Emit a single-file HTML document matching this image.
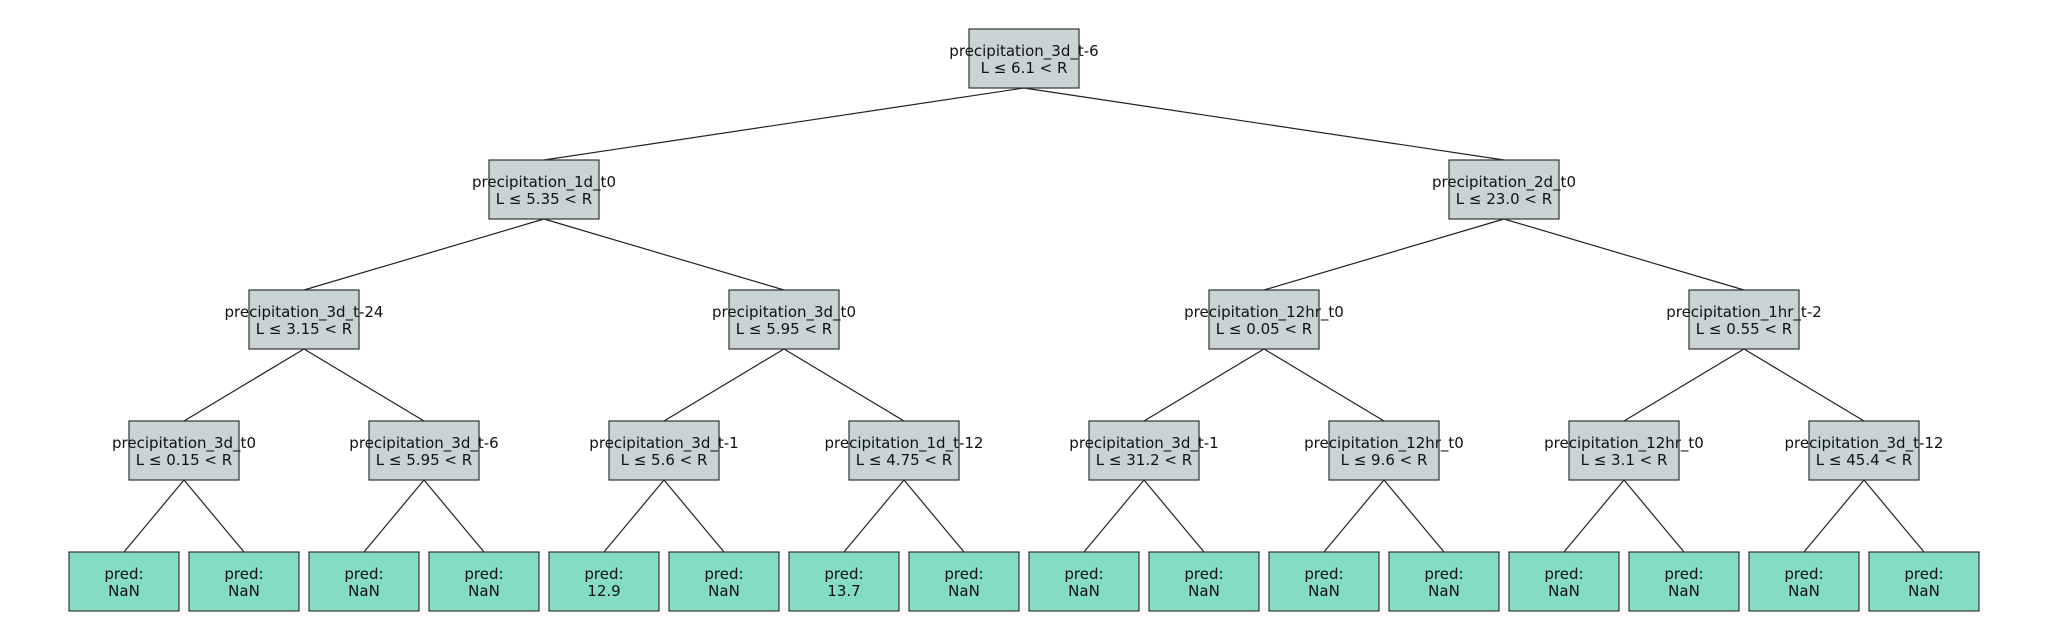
<!DOCTYPE html>
<html><head><meta charset="utf-8"><style>html,body{margin:0;padding:0;background:#fff}svg{display:block}</style></head>
<body>
<svg width="2048" height="640" xmlns="http://www.w3.org/2000/svg" font-family="DejaVu Sans, Liberation Sans, sans-serif" font-size="15" fill="#111">
<g stroke="#222" stroke-width="1.2">
<line x1="1024" y1="88" x2="544" y2="160"/><line x1="1024" y1="88" x2="1504" y2="160"/>
<line x1="544" y1="219" x2="304" y2="290"/><line x1="544" y1="219" x2="784" y2="290"/>
<line x1="1504" y1="219" x2="1264" y2="290"/><line x1="1504" y1="219" x2="1744" y2="290"/>
<line x1="304" y1="349" x2="184" y2="421"/><line x1="304" y1="349" x2="424" y2="421"/>
<line x1="784" y1="349" x2="664" y2="421"/><line x1="784" y1="349" x2="904" y2="421"/>
<line x1="1264" y1="349" x2="1144" y2="421"/><line x1="1264" y1="349" x2="1384" y2="421"/>
<line x1="1744" y1="349" x2="1624" y2="421"/><line x1="1744" y1="349" x2="1864" y2="421"/>
<line x1="184" y1="480" x2="124" y2="552"/><line x1="184" y1="480" x2="244" y2="552"/>
<line x1="424" y1="480" x2="364" y2="552"/><line x1="424" y1="480" x2="484" y2="552"/>
<line x1="664" y1="480" x2="604" y2="552"/><line x1="664" y1="480" x2="724" y2="552"/>
<line x1="904" y1="480" x2="844" y2="552"/><line x1="904" y1="480" x2="964" y2="552"/>
<line x1="1144" y1="480" x2="1084" y2="552"/><line x1="1144" y1="480" x2="1204" y2="552"/>
<line x1="1384" y1="480" x2="1324" y2="552"/><line x1="1384" y1="480" x2="1444" y2="552"/>
<line x1="1624" y1="480" x2="1564" y2="552"/><line x1="1624" y1="480" x2="1684" y2="552"/>
<line x1="1864" y1="480" x2="1804" y2="552"/><line x1="1864" y1="480" x2="1924" y2="552"/>
</g>
<g fill="#c7d3d4" stroke="#333" stroke-width="1.2">
<rect x="969" y="29" width="110" height="59"/>
<rect x="489" y="160" width="110" height="59"/><rect x="1449" y="160" width="110" height="59"/>
<rect x="249" y="290" width="110" height="59"/><rect x="729" y="290" width="110" height="59"/>
<rect x="1209" y="290" width="110" height="59"/><rect x="1689" y="290" width="110" height="59"/>
<rect x="129" y="421" width="110" height="59"/><rect x="369" y="421" width="110" height="59"/>
<rect x="609" y="421" width="110" height="59"/><rect x="849" y="421" width="110" height="59"/>
<rect x="1089" y="421" width="110" height="59"/><rect x="1329" y="421" width="110" height="59"/>
<rect x="1569" y="421" width="110" height="59"/><rect x="1809" y="421" width="110" height="59"/>
</g>
<g fill="#85dcc5" stroke="#333" stroke-width="1.2">
<rect x="69" y="552" width="110" height="59"/><rect x="189" y="552" width="110" height="59"/>
<rect x="309" y="552" width="110" height="59"/><rect x="429" y="552" width="110" height="59"/>
<rect x="549" y="552" width="110" height="59"/><rect x="669" y="552" width="110" height="59"/>
<rect x="789" y="552" width="110" height="59"/><rect x="909" y="552" width="110" height="59"/>
<rect x="1029" y="552" width="110" height="59"/><rect x="1149" y="552" width="110" height="59"/>
<rect x="1269" y="552" width="110" height="59"/><rect x="1389" y="552" width="110" height="59"/>
<rect x="1509" y="552" width="110" height="59"/><rect x="1629" y="552" width="110" height="59"/>
<rect x="1749" y="552" width="110" height="59"/><rect x="1869" y="552" width="110" height="59"/>
</g>
<g text-anchor="middle">
<text x="1024" y="56">precipitation_3d_t-6</text><text x="1024" y="73">L ≤ 6.1 &lt; R</text>
<text x="544" y="187">precipitation_1d_t0</text><text x="544" y="204">L ≤ 5.35 &lt; R</text>
<text x="1504" y="187">precipitation_2d_t0</text><text x="1504" y="204">L ≤ 23.0 &lt; R</text>
<text x="304" y="317">precipitation_3d_t-24</text><text x="304" y="334">L ≤ 3.15 &lt; R</text>
<text x="784" y="317">precipitation_3d_t0</text><text x="784" y="334">L ≤ 5.95 &lt; R</text>
<text x="1264" y="317">precipitation_12hr_t0</text><text x="1264" y="334">L ≤ 0.05 &lt; R</text>
<text x="1744" y="317">precipitation_1hr_t-2</text><text x="1744" y="334">L ≤ 0.55 &lt; R</text>
<text x="184" y="448">precipitation_3d_t0</text><text x="184" y="465">L ≤ 0.15 &lt; R</text>
<text x="424" y="448">precipitation_3d_t-6</text><text x="424" y="465">L ≤ 5.95 &lt; R</text>
<text x="664" y="448">precipitation_3d_t-1</text><text x="664" y="465">L ≤ 5.6 &lt; R</text>
<text x="904" y="448">precipitation_1d_t-12</text><text x="904" y="465">L ≤ 4.75 &lt; R</text>
<text x="1144" y="448">precipitation_3d_t-1</text><text x="1144" y="465">L ≤ 31.2 &lt; R</text>
<text x="1384" y="448">precipitation_12hr_t0</text><text x="1384" y="465">L ≤ 9.6 &lt; R</text>
<text x="1624" y="448">precipitation_12hr_t0</text><text x="1624" y="465">L ≤ 3.1 &lt; R</text>
<text x="1864" y="448">precipitation_3d_t-12</text><text x="1864" y="465">L ≤ 45.4 &lt; R</text>
<text x="124" y="579">pred:</text><text x="124" y="596">NaN</text>
<text x="244" y="579">pred:</text><text x="244" y="596">NaN</text>
<text x="364" y="579">pred:</text><text x="364" y="596">NaN</text>
<text x="484" y="579">pred:</text><text x="484" y="596">NaN</text>
<text x="604" y="579">pred:</text><text x="604" y="596">12.9</text>
<text x="724" y="579">pred:</text><text x="724" y="596">NaN</text>
<text x="844" y="579">pred:</text><text x="844" y="596">13.7</text>
<text x="964" y="579">pred:</text><text x="964" y="596">NaN</text>
<text x="1084" y="579">pred:</text><text x="1084" y="596">NaN</text>
<text x="1204" y="579">pred:</text><text x="1204" y="596">NaN</text>
<text x="1324" y="579">pred:</text><text x="1324" y="596">NaN</text>
<text x="1444" y="579">pred:</text><text x="1444" y="596">NaN</text>
<text x="1564" y="579">pred:</text><text x="1564" y="596">NaN</text>
<text x="1684" y="579">pred:</text><text x="1684" y="596">NaN</text>
<text x="1804" y="579">pred:</text><text x="1804" y="596">NaN</text>
<text x="1924" y="579">pred:</text><text x="1924" y="596">NaN</text>
</g>
</svg>
</body></html>
